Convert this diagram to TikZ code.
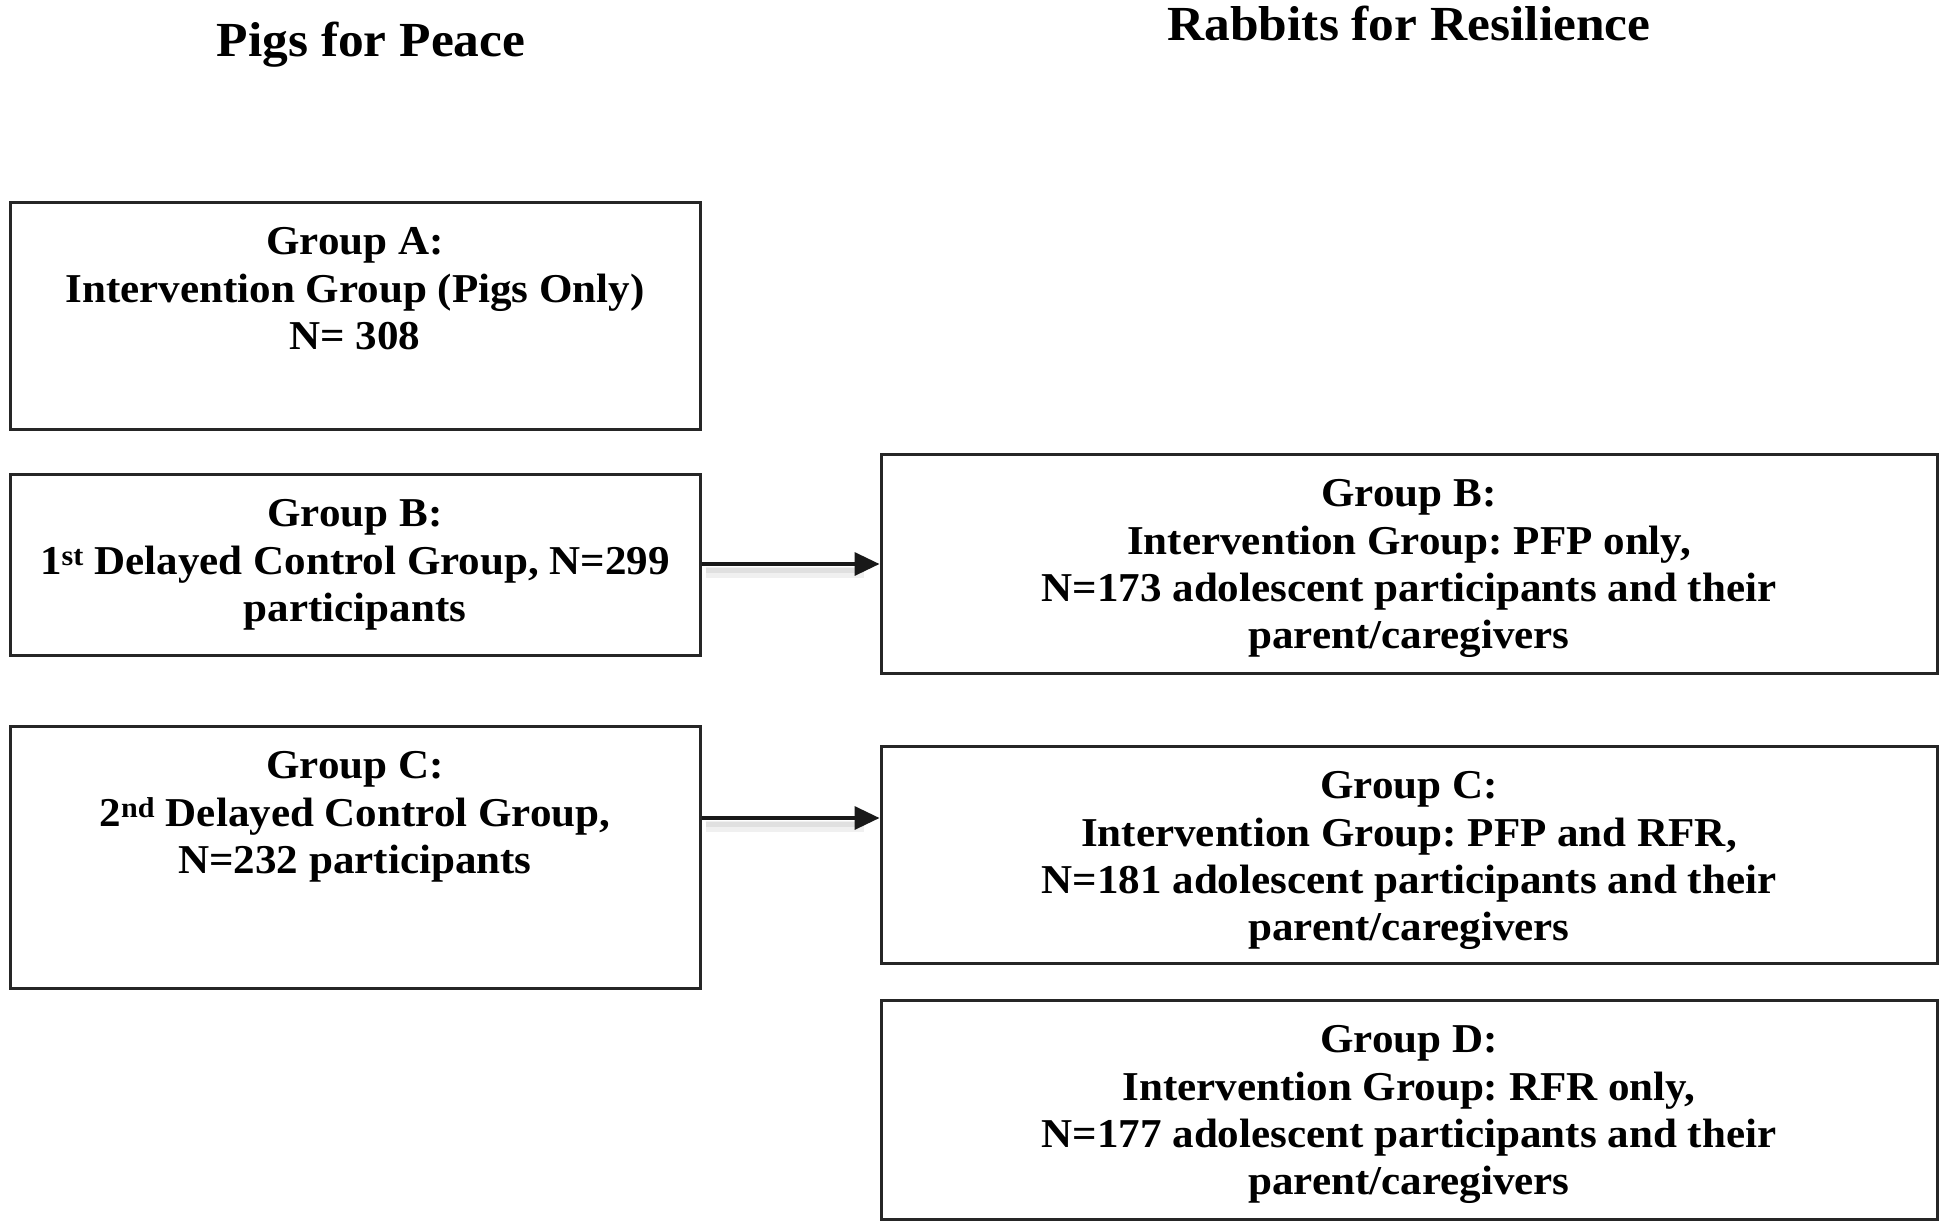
\documentclass[tikz,border=0pt]{standalone}
\usepackage{fontspec}
\setmainfont{Liberation Serif}[FakeStretch=1.05]
\usetikzlibrary{arrows.meta}
\frenchspacing
\begin{document}
\begin{tikzpicture}[x=1pt,y=-1pt,
  box/.style={draw=black!85, line width=3pt, rectangle, inner sep=0pt},
  txt/.style={anchor=north, align=center, inner sep=0pt, font=\fontsize{41}{47.3}\selectfont\bfseries},
  ttl/.style={anchor=center, inner sep=0pt, font=\fontsize{49}{58}\selectfont\bfseries},
  conn/.style={line width=3.5pt, draw=black!90, -{Triangle[length=25pt,width=23pt]}},
  shadea/.style={line width=11pt, draw=black!6},
  shadeb/.style={line width=5pt, draw=black!12}
]
\useasboundingbox (0,0) rectangle (1946,1226);
\fill[white] (0,0) rectangle (1946,1226);

% titles
\node[ttl] (t1) at (371,45) {Pigs for Peace};
\node[ttl] (t2) at (1409,23) {Rabbits for Resilience};

% left boxes
\node[box, minimum width=690pt, minimum height=227pt] (A) at (355,315.5) {};
\node[box, minimum width=690pt, minimum height=181pt] (B1) at (355,564.5) {};
\node[box, minimum width=690pt, minimum height=262pt] (C1) at (355,857) {};

% right boxes
\node[box, minimum width=1056pt, minimum height=219pt] (B2) at (1409,563.5) {};
\node[box, minimum width=1056pt, minimum height=217pt] (C2) at (1409,854.5) {};
\node[box, minimum width=1056pt, minimum height=219pt] (D2) at (1409,1109.5) {};

% texts
\node[txt] (tA) at ([yshift=-27pt]A.north) {Group A:\\Intervention Group (Pigs Only)\\N= 308};
\node[txt] (tB1) at ([yshift=-27pt]B1.north) {Group B:\\1\textsuperscript{st} Delayed Control Group, N=299\\participants};
\node[txt] (tC1) at ([yshift=-27pt]C1.north) {Group C:\\2\textsuperscript{nd} Delayed Control Group,\\N=232 participants};
\node[txt] (tB2) at ([yshift=-27pt]B2.north) {Group B:\\Intervention Group: PFP only,\\N=173 adolescent participants and their\\parent/caregivers};
\node[txt] (tC2) at ([yshift=-27pt]C2.north) {Group C:\\Intervention Group: PFP and RFR,\\N=181 adolescent participants and their\\parent/caregivers};
\node[txt] (tD2) at ([yshift=-27pt]D2.north) {Group D:\\Intervention Group: RFR only,\\N=177 adolescent participants and their\\parent/caregivers};

% connectors
\coordinate (b1e) at (B1.east |- 0,564);
\coordinate (b2w) at (B2.west |- 0,564);
\coordinate (c1e) at (C1.east |- 0,818);
\coordinate (c2w) at (C2.west |- 0,818);
\draw[shadea] ([xshift=4pt,yshift=-8pt]b1e) -- ([xshift=-16pt,yshift=-8pt]b2w);
\draw[shadeb] ([xshift=4pt,yshift=-6pt]b1e) -- ([xshift=-18pt,yshift=-6pt]b2w);
\draw[shadea] ([xshift=4pt,yshift=-8pt]c1e) -- ([xshift=-16pt,yshift=-8pt]c2w);
\draw[shadeb] ([xshift=4pt,yshift=-6pt]c1e) -- ([xshift=-18pt,yshift=-6pt]c2w);
\draw[conn] (b1e) -- (b2w);
\draw[conn] (c1e) -- (c2w);
\end{tikzpicture}
\end{document}
